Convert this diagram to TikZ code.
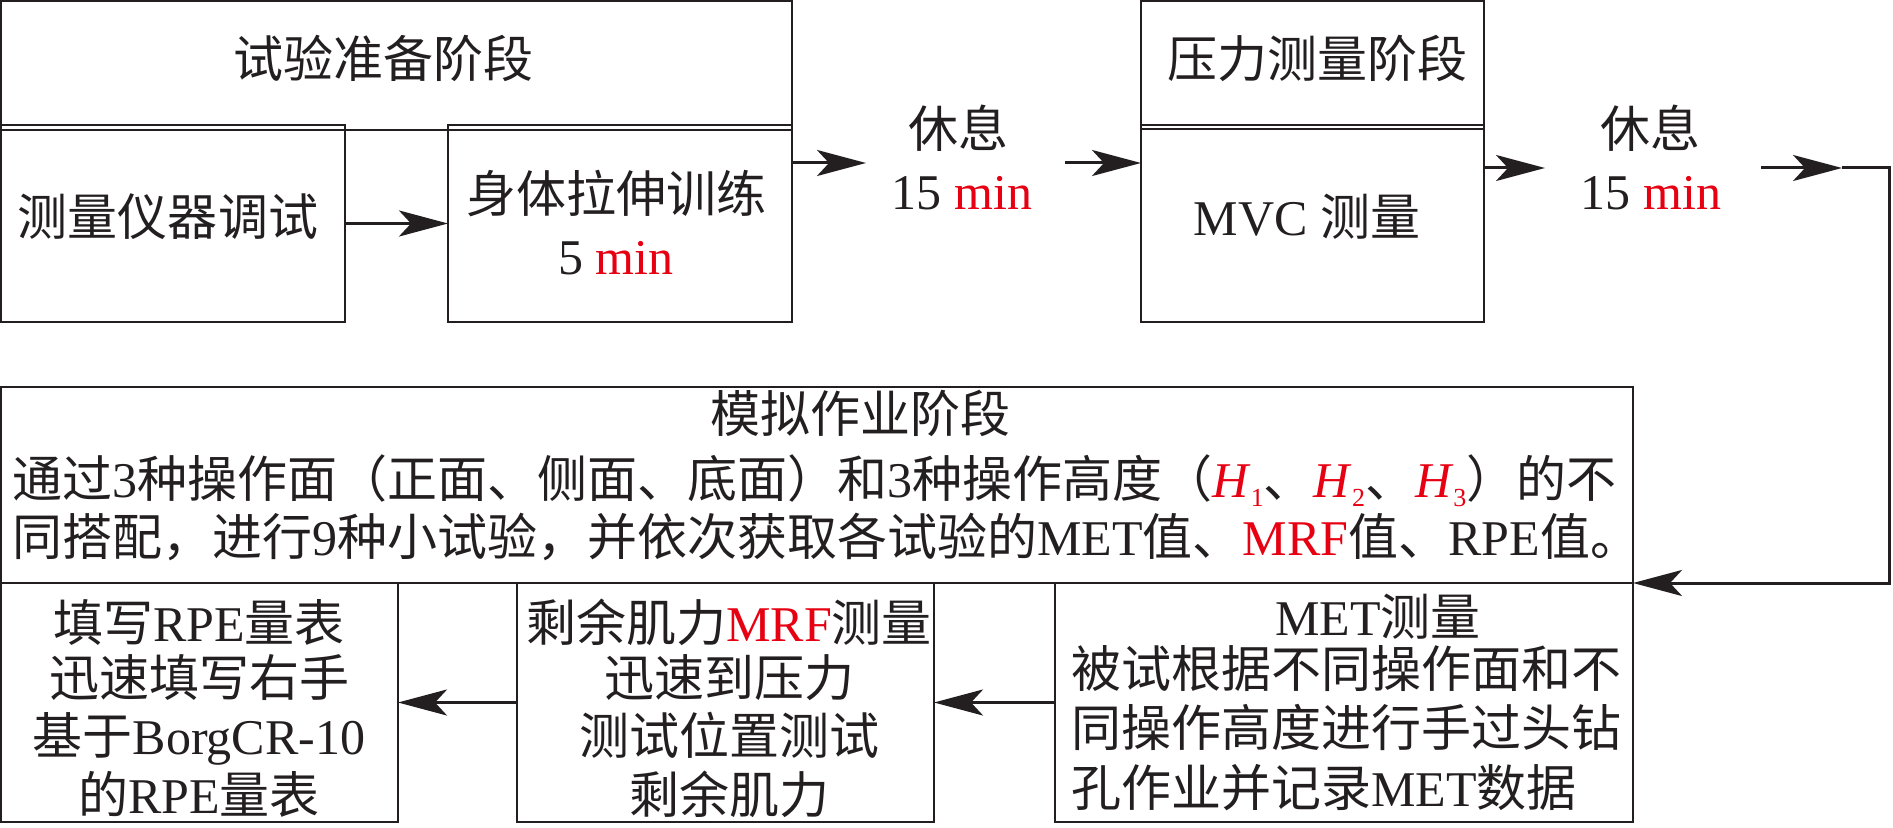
\documentclass[tikz,border=0pt]{standalone}
\usepackage{fontspec}
\setmainfont{Liberation Serif}
\newfontfamily\cjk{Noto Sans CJK SC}
\usetikzlibrary{arrows.meta}
\definecolor{ink}{HTML}{231F20}
\definecolor{hlred}{HTML}{E60012}
\newcommand{\zh}[1]{{\cjk #1}}
\newcommand{\rd}[1]{\textcolor{hlred}{#1}}
\newcommand{\Hs}[1]{\textcolor{hlred}{\textit{H}\raisebox{-4.5pt}[0pt][0pt]{\fontsize{13pt}{13pt}\selectfont #1}}}
\begin{document}
\begin{tikzpicture}[x=0.5pt,y=-0.5pt,
  boxst/.style={draw=ink, line width=1pt, inner sep=0pt, outer sep=0pt, anchor=north west},
  lbl/.style={font=\fontsize{25pt}{30pt}\selectfont, text=ink, inner sep=0pt, anchor=base},
  lblw/.style={lbl, anchor=base west},
  conn/.style={draw=ink, line width=1.5pt},
  arr/.style={conn, -{Stealth[length=24.5pt,width=13pt,inset=6pt]}}]
\useasboundingbox (0,0) rectangle (1893,828);
% boxes
\node[boxst, minimum width=395.5pt, minimum height=64.5pt] (Atop) at (1,1) {};
\node[boxst, minimum width=172pt, minimum height=98.5pt] (A1) at (1,125) {};
\node[boxst, minimum width=172pt, minimum height=98.5pt] (A2) at (448,125) {};
\node[boxst, minimum width=171.5pt, minimum height=64pt] (Btop) at (1141,1) {};
\node[boxst, minimum width=171.5pt, minimum height=98.5pt] (B1) at (1141,125) {};
\node[boxst, minimum width=816pt, minimum height=98pt] (C) at (1,387) {};
\node[boxst, minimum width=198.5pt, minimum height=119.5pt] (D) at (1,583) {};
\node[boxst, minimum width=208.5pt, minimum height=119.5pt] (E) at (517,583) {};
\node[boxst, minimum width=289pt, minimum height=119.5pt] (F) at (1055,583) {};
% texts
\node[lbl] (tA) at (383,78) {\zh{试验准备阶段}};
\node[lbl] (tA1) at (168,236) {\zh{测量仪器调试}};
\node[lbl] (tA2a) at (616,213) {\zh{身体拉伸训练}};
\node[lbl] (tA2b) at (616,275) {5 \rd{min}};
\node[lbl] (rest1a) at (958,148) {\zh{休息}};
\node[lbl] (rest1b) at (962,210) {15 \rd{min}};
\node[lbl] (tB) at (1317,78) {\zh{压力测量阶段}};
\node[lbl] (tB1) at (1307,236) {MVC \zh{测量}};
\node[lbl] (rest2a) at (1650,148) {\zh{休息}};
\node[lbl] (rest2b) at (1651,210) {15 \rd{min}};
\node[lbl] (tC) at (860,432) {\zh{模拟作业阶段}};
\node[lblw] (tC2) at (12,497) {\zh{通过}3\zh{种操作面（正面、侧面、底面）和}3\zh{种操作高度（}\Hs{1}\zh{、}\Hs{2}\zh{、}\Hs{3}\zh{）的不}};
\node[lblw] (tC3) at (12,555) {\zh{同搭配，进行}9\zh{种小试验，并依次获取各试验的}MET\zh{值、}\rd{MRF}\zh{值、}RPE\zh{值。}};
\node[lbl] (tF1) at (1378,635) {MET\zh{测量}};
\node[lblw] (tF2) at (1071,687) {\zh{被试根据不同操作面和不}};
\node[lblw] (tF3) at (1071,746) {\zh{同操作高度进行手过头钻}};
\node[lblw] (tF4) at (1071,806) {\zh{孔作业并记录}MET\zh{数据}};
\node[lbl] (tE1) at (729,641) {\zh{剩余肌力}\rd{MRF}\zh{测量}};
\node[lbl] (tE2) at (729,696) {\zh{迅速到压力}};
\node[lbl] (tE3) at (729,754) {\zh{测试位置测试}};
\node[lbl] (tE4) at (729,813) {\zh{剩余肌力}};
\node[lbl] (tD1) at (199,641) {\zh{填写}RPE\zh{量表}};
\node[lbl] (tD2) at (199,696) {\zh{迅速填写右手}};
\node[lbl] (tD3) at (199,754) {\zh{基于}BorgCR-10};
\node[lbl] (tD4) at (199,813) {\zh{的}RPE\zh{量表}};
% connectors
\coordinate (r1a) at (866,163);
\coordinate (r1b) at (1065,163);
\coordinate (r2a) at (1545,168);
\coordinate (r2b) at (1761,168);
\coordinate (r2c) at (1842,168);
\coordinate (k1) at (1889,168);
\coordinate (k2) at (1889,583);
\draw[arr] (A1.east) -- (A2.west);
\draw[arr] (A2.east |- r1a) -- (r1a);
\draw[arr] (r1b) -- (B1.west |- r1b);
\draw[arr] (B1.east |- r2a) -- (r2a);
\draw[arr] (r2b) -- (r2c);
\draw[arr] (r2c) -- (k1) -- (k2) -- (C.south east);
\draw[arr] (F.west) -- (E.east);
\draw[arr] (E.west) -- (D.east);
\end{tikzpicture}
\end{document}
